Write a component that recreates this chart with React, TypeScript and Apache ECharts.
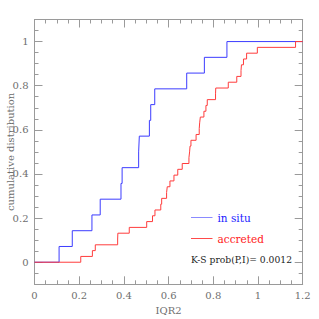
import React, { useEffect, useRef } from "react";
import * as echarts from "echarts";

const inSitu = [0.110, 0.169, 0.257, 0.294, 0.387, 0.392, 0.466, 0.469, 0.514, 0.520, 0.538, 0.681, 0.760, 0.861];
const accreted = [0.207, 0.259, 0.272, 0.372, 0.373, 0.424, 0.502, 0.528, 0.539, 0.565, 0.569, 0.591, 0.594, 0.606, 0.624, 0.641, 0.661, 0.691, 0.694, 0.696, 0.700, 0.723, 0.737, 0.739, 0.742, 0.758, 0.767, 0.773, 0.810, 0.811, 0.867, 0.905, 0.924, 0.926, 0.935, 0.949, 0.997, 1.168];
const yMajorTicks = [0, 0.2, 0.4, 0.6, 0.8, 1];
const legendNames = ["in situ", "accreted"];
const ksText = "K-S prob(P,I)= 0.0012";

const X_MIN = 0, X_MAX = 1.2, Y_MIN = -0.1, Y_MAX = 1.1;

function ecdf(xs: number[]): number[][] {
  const n = xs.length;
  const pts: number[][] = [[X_MIN, 0]];
  xs.forEach((x, i) => pts.push([x, (i + 1) / n]));
  pts.push([X_MAX, 1]);
  return pts;
}

const FONT = "DejaVu Serif";
const AX = "#9a9a9a";
const LBL = "#6e6e6e";
const BLUE = "#3c3cff";
const RED = "#ff3c3c";

export default function App() {
  const ref = useRef<HTMLDivElement>(null);
  useEffect(() => {
    if (!ref.current) return;
    const chart = echarts.init(ref.current, null, { renderer: "svg" });
    const xBase = {
      type: "value", min: X_MIN, max: X_MAX, interval: 0.2,
      axisLine: { onZero: false, lineStyle: { color: AX, width: 1 } },
      axisTick: { inside: true, length: 8, lineStyle: { color: AX } },
      minorTick: { show: true, splitNumber: 4, length: 4, lineStyle: { color: AX } },
      splitLine: { show: false },
    };
    const yMinor = {
      type: "value", min: Y_MIN, max: Y_MAX, interval: 0.05,
      axisLine: { onZero: false, lineStyle: { color: AX, width: 1 } },
      axisTick: { inside: true, length: 4, lineStyle: { color: AX } },
      axisLabel: { show: false },
      splitLine: { show: false },
    };
    const yMajor = {
      type: "value", min: Y_MIN, max: Y_MAX,
      axisLine: { show: false, onZero: false },
      axisTick: { inside: true, length: 8, customValues: yMajorTicks, lineStyle: { color: AX } },
      splitLine: { show: false },
    };
    chart.setOption({
      animation: false,
      grid: { left: 34.5, right: 16.3, top: 19.5, bottom: 34.7, containLabel: false, outerBoundsMode: "none" },
      xAxis: [
        {
          ...xBase, position: "bottom",
          name: "IQR2", nameLocation: "middle", nameGap: 19,
          nameTextStyle: { color: LBL, fontFamily: FONT, fontSize: 10 },
          axisLabel: { color: LBL, fontFamily: FONT, fontSize: 10, margin: 6 },
        },
        { ...xBase, position: "top", axisLabel: { show: false } },
      ],
      yAxis: [
        {
          ...yMinor, position: "left",
          name: "cumulative distribution", nameLocation: "middle", nameGap: 19,
          nameTextStyle: { color: LBL, fontFamily: FONT, fontSize: 10 },
        },
        {
          ...yMajor, position: "left",
          axisLabel: { customValues: yMajorTicks, color: LBL, fontFamily: FONT, fontSize: 10, margin: 6 },
        },
        { ...yMinor, position: "right" },
        { ...yMajor, position: "right", axisLabel: { show: false } },
      ],
      series: [
        {
          name: legendNames[0], type: "line", step: "end", data: ecdf(inSitu),
          xAxisIndex: 0, yAxisIndex: 0, showSymbol: false, symbol: "none",
          lineStyle: { color: BLUE, width: 1 }, z: 2,
        },
        {
          name: legendNames[1], type: "line", step: "end", data: ecdf(accreted),
          xAxisIndex: 0, yAxisIndex: 0, showSymbol: false, symbol: "none",
          lineStyle: { color: RED, width: 1 }, z: 3,
        },
      ],
      graphic: [
        { type: "line", shape: { x1: 191, y1: 217.5, x2: 212.5, y2: 217.5 }, style: { stroke: "#8a8aff", lineWidth: 1 } },
        { type: "text", x: 217.5, y: 217.5, style: { text: legendNames[0], fill: "#2020ff", font: `10.5px '${FONT}'`, verticalAlign: "middle" } },
        { type: "line", shape: { x1: 191, y1: 238.5, x2: 212.5, y2: 238.5 }, style: { stroke: "#ff4a4a", lineWidth: 1 } },
        { type: "text", x: 217.5, y: 238.5, style: { text: legendNames[1], fill: "#ff2020", font: `10.5px '${FONT}'`, verticalAlign: "middle" } },
        { type: "text", x: 191, y: 259.5, style: { text: ksText, fill: "#222", font: `9.2px '${FONT}'`, verticalAlign: "middle" } },
      ],
    });
    return () => chart.dispose();
  }, []);
  return <div ref={ref} style={{ position: "fixed", left: 0, top: 0, width: 319, height: 319, background: "#fff" }} />;
}
